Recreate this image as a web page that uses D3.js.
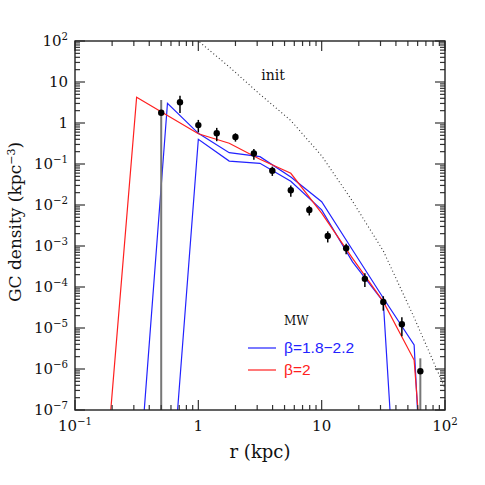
<!DOCTYPE html>
<html><head><meta charset="utf-8">
<script src="https://cdn.jsdelivr.net/npm/d3@7"></script>
<style>body{margin:0;background:#fff}svg{display:block}</style>
</head><body>
<svg id="c" width="485" height="485"></svg>
<script>
// observed MW globular cluster density profile
const obsR   = [0.5, 0.71, 1.0, 1.41, 2.0, 2.82, 3.98, 5.62, 7.94, 11.2, 15.8, 22.4, 31.6, 44.7, 63.1];
const obsRho = [1.78, 3.2, 0.89, 0.56, 0.456, 0.18, 0.0687, 0.0229, 0.00755, 0.00175, 8.8e-4, 1.58e-4, 4.3e-5, 1.23e-5, 8.8e-7];
const obsErr = [1.86, 1.45, 0.3, 0.2, 0.105, 0.053, 0.0175, 0.007, 0.002, 0.00053, 2.5e-4, 5.8e-5, 1.65e-5, 6e-6, 9.4e-7];

// model grid
const modelR   = [0.178, 0.316, 0.562, 1.0, 1.78, 3.16, 5.62, 10, 17.8, 31.6, 56.2, 100];
const beta2    = [3.6e-9, 4.24, 1.53, 0.545, 0.32, 0.13, 0.0593, 0.0063, 5e-4, 4.4e-5, 1.65e-6, 3e-16];
const betaHi   = [null, 3.5e-10, 3.03, 0.56, 0.189, 0.151, 0.048, 0.012, 8e-4, 5.4e-5, 3.85e-6, 1e-20];
const betaLo   = [null, null, 6e-11, 0.40, 0.118, 0.104, 0.038, 0.0076, 4.1e-4, 4.4e-5, 3e-17, null];

// initial profile
const initR   = [0.562, 1.0, 1.78, 3.16, 5.62, 10, 17.8, 31.6, 56.2, 100];
const initRho = [479, 100, 23.4, 5.0, 1.15, 0.158, 0.0123, 7.6e-4, 1.8e-5, 3.4e-7];

const xTickVals = [0.1, 1, 10, 100];
const xTickLabels = [["10","−1"], ["1",""], ["10",""], ["10","2"]];
const yTickVals = [1e-7,1e-6,1e-5,1e-4,1e-3,1e-2,1e-1,1,10,100];
const yTickLabels = [["10","−7"],["10","−6"],["10","−5"],["10","−4"],["10","−3"],["10","−2"],["10","−1"],["1",""],["10",""],["10","2"]];

const L=75, R=445, T=41, B=410;
const svg = d3.select("#c");
const x = d3.scaleLog().domain([0.1,100]).range([L,R]);
const y = d3.scaleLog().domain([1e-7,100]).range([B,T]);
const serif = "DejaVu Serif";

svg.append("defs").append("clipPath").attr("id","clip")
  .append("rect").attr("x",L).attr("y",T).attr("width",R-L).attr("height",B-T);
const plot = svg.append("g").attr("clip-path","url(#clip)");

// init dotted
const line = d3.line().defined(d=>d[1]!=null).x(d=>x(d[0])).y(d=>y(d[1]));
plot.append("path").datum(initR.map((r,i)=>[r,initRho[i]]))
  .attr("d",line).attr("fill","none").attr("stroke","#333").attr("stroke-width",1.1)
  .attr("stroke-dasharray","1,2.6");

// model lines
[[betaHi,"#2222ff"],[betaLo,"#2222ff"],[beta2,"#ff2020"]].forEach(([vals,col])=>{
  plot.append("path").datum(modelR.map((r,i)=>[r,vals[i]]))
    .attr("d",line).attr("fill","none").attr("stroke",col).attr("stroke-width",1.2);
});

// error bars
obsR.forEach((r,i)=>{
  const lo = obsRho[i]-obsErr[i], hi = obsRho[i]+obsErr[i];
  const full = lo<=0;
  plot.append("line").attr("x1",x(r)).attr("x2",x(r))
    .attr("y1",y(hi)).attr("y2",full? B+5 : y(lo))
    .attr("stroke",full?"#777":"#000").attr("stroke-width",full?2:1.5);
});
plot.selectAll("circle.pt").data(obsR).enter().append("circle")
  .attr("cx",d=>x(d)).attr("cy",(d,i)=>y(obsRho[i])).attr("r",3.2).attr("fill","#000");

// ticks
const ax = svg.append("g").attr("stroke","#333").attr("stroke-width",1.2);
const minorX = [], minorY = [];
for (let e=-1;e<2;e++) for (let m=2;m<10;m++) minorX.push(m*Math.pow(10,e));
for (let e=-7;e<2;e++) for (let m=2;m<10;m++) minorY.push(m*Math.pow(10,e));
xTickVals.forEach(v=>{
  ax.append("line").attr("x1",x(v)).attr("x2",x(v)).attr("y1",B).attr("y2",B-10);
  ax.append("line").attr("x1",x(v)).attr("x2",x(v)).attr("y1",T).attr("y2",T+10);
});
minorX.forEach(v=>{
  ax.append("line").attr("x1",x(v)).attr("x2",x(v)).attr("y1",B).attr("y2",B-5);
  ax.append("line").attr("x1",x(v)).attr("x2",x(v)).attr("y1",T).attr("y2",T+5);
});
yTickVals.forEach(v=>{
  ax.append("line").attr("y1",y(v)).attr("y2",y(v)).attr("x1",L).attr("x2",L+10);
  ax.append("line").attr("y1",y(v)).attr("y2",y(v)).attr("x1",R).attr("x2",R-10);
});
minorY.forEach(v=>{
  ax.append("line").attr("y1",y(v)).attr("y2",y(v)).attr("x1",L).attr("x2",L+5);
  ax.append("line").attr("y1",y(v)).attr("y2",y(v)).attr("x1",R).attr("x2",R-5);
});
svg.append("rect").attr("x",L).attr("y",T).attr("width",R-L).attr("height",B-T)
  .attr("fill","none").attr("stroke","#222").attr("stroke-width",1.4);

// tick labels
function lab(g, base, sup, px, py, anchor, fs){
  const t = g.append("text").attr("x",px).attr("y",py).attr("text-anchor",anchor)
    .attr("font-family",serif).attr("font-size",fs).attr("fill","#111");
  t.append("tspan").text(base);
  if (sup) t.append("tspan").attr("dy",-6).attr("font-size",fs*0.68).text(sup);
  return t;
}
xTickVals.forEach((v,i)=>lab(svg, xTickLabels[i][0], xTickLabels[i][1], x(v), 431, "middle", 15));
yTickVals.forEach((v,i)=>lab(svg, yTickLabels[i][0], yTickLabels[i][1], 68, y(v)+5, "end", 15));

// axis titles
svg.append("text").attr("x",260).attr("y",458).attr("text-anchor","middle")
  .attr("font-family",serif).attr("font-size",18).attr("fill","#111").text("r (kpc)");
const yl = svg.append("text").attr("transform","translate(21,222) rotate(-90)")
  .attr("text-anchor","middle").attr("font-family",serif).attr("font-size",17).attr("fill","#111");
yl.append("tspan").text("GC density (kpc");
yl.append("tspan").attr("dy",-6).attr("font-size",11).text("−3");
yl.append("tspan").attr("dy",6).text(")");

svg.append("text").attr("x",273).attr("y",80).attr("text-anchor","middle")
  .attr("font-family",serif).attr("font-size",14).attr("fill","#111").text("init");

// legend
svg.append("text").attr("x",284).attr("y",325).attr("font-family",serif)
  .attr("font-size",12).attr("fill","#111").text("MW");
[["β=1.8−2.2","#2222ff",348],["β=2","#ff2020",370]].forEach(([t,c,yy])=>{
  svg.append("line").attr("x1",248).attr("x2",276).attr("y1",yy).attr("y2",yy)
    .attr("stroke",c).attr("stroke-width",1.2);
  svg.append("text").attr("x",284).attr("y",yy+5).attr("font-family","Liberation Sans")
    .attr("font-size",15.5).attr("fill",c).text(t);
});
</script>
</body></html>
